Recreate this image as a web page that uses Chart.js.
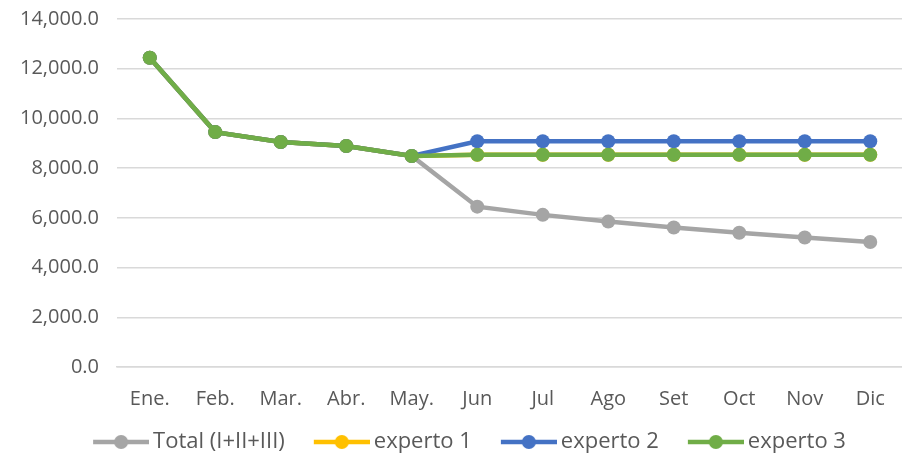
<!DOCTYPE html>
<html>
<head>
<meta charset="utf-8">
<script src="https://cdn.jsdelivr.net/npm/chart.js@4/dist/chart.umd.min.js"></script>
<style>
  html, body { margin: 0; padding: 0; background: #fff; overflow: hidden; }
  #wrap { width: 910px; height: 453px; }
</style>
</head>
<body>
<div id="wrap"><canvas id="chart"></canvas></div>
<script>
var months   = ['Ene.', 'Feb.', 'Mar.', 'Abr.', 'May.', 'Jun', 'Jul', 'Ago', 'Set', 'Oct', 'Nov', 'Dic'];
var total    = [12440, 9450, 9050, 8890, 8490, 6450, 6120, 5850, 5610, 5400, 5210, 5030];
var experto1 = [12440, 9450, 9050, 8890, 8490, 8540, 8540, 8540, 8540, 8540, 8540, 8540];
var experto2 = [12440, 9450, 9050, 8890, 8490, 9080, 9080, 9080, 9080, 9080, 9080, 9080];
var experto3 = [12440, 9450, 9050, 8890, 8490, 8540, 8540, 8540, 8540, 8540, 8540, 8540];
var yTicks   = [0, 2000, 4000, 6000, 8000, 10000, 12000, 14000];

var font = '"Open Sans", sans-serif';
var legendSize = 22;
var legendBox = 78;

// excel-like legend marker: line with a dot, pushed to the left so it sits
// right before the text (chart.js centres the image on the box)
function marker(color) {
  var w = legendBox + legendSize - 8;
  var c = document.createElement('canvas');
  c.width = w; c.height = 16;
  var ctx = c.getContext('2d');
  var x0 = w - 56;
  ctx.strokeStyle = color;
  ctx.lineWidth = 4.5;
  ctx.beginPath(); ctx.moveTo(x0, 8); ctx.lineTo(w, 8); ctx.stroke();
  ctx.fillStyle = color;
  ctx.beginPath(); ctx.arc(x0 + 28, 8, 7, 0, Math.PI * 2); ctx.fill();
  return c;
}

// order: lower value is drawn on top (green last, like excel)
function series(label, data, color, order) {
  return {
    label: label,
    data: data,
    order: order,
    borderColor: color,
    backgroundColor: color,
    borderWidth: 4.5,
    pointRadius: 7,
    pointHoverRadius: 7,
    pointBorderWidth: 0,
    pointStyle: 'circle',
    legendMarker: marker(color),
    tension: 0
  };
}

new Chart(document.getElementById('chart'), {
  type: 'line',
  data: {
    labels: months,
    datasets: [
      series('Total (I+II+III)', total, '#A5A5A5', 4),
      series('experto 1', experto1, '#FFC000', 3),
      series('experto 2', experto2, '#4472C4', 2),
      series('experto 3', experto3, '#70AD47', 1)
    ]
  },
  options: {
    responsive: true,
    maintainAspectRatio: false,
    animation: false,
    layout: { padding: { top: 19, left: 0, right: 0, bottom: -10 } },
    plugins: {
      tooltip: { enabled: false },
      legend: {
        position: 'bottom',
        labels: {
          usePointStyle: true,
          pointStyleWidth: legendBox,
          padding: 0,
          color: '#595959',
          font: { family: font, size: legendSize },
          generateLabels: function(chart) {
            return chart.data.datasets.map(function(ds, i) {
              return {
                text: ds.label,
                pointStyle: ds.legendMarker,
                fillStyle: ds.borderColor,
                strokeStyle: ds.borderColor,
                lineWidth: 0,
                fontColor: '#595959',
                datasetIndex: i
              };
            });
          }
        }
      }
    },
    scales: {
      x: {
        offset: true,
        grid: { display: false, drawTicks: false },
        border: { color: '#D9D9D9', width: 1.5 },
        ticks: { color: '#595959', padding: 20, maxRotation: 0, font: { family: font, size: 20 } }
      },
      y: {
        min: 0,
        max: 14000,
        afterFit: function(s) { s.width = 117; s.paddingTop = 0; },
        afterBuildTicks: function(s) { s.ticks = yTicks.map(function(v) { return { value: v }; }); },
        grid: { color: '#D9D9D9', lineWidth: 1.5, drawTicks: false },
        border: { display: false },
        ticks: {
          color: '#595959',
          padding: 18,
          font: { family: font, size: 20 },
          callback: function(v) {
            return v.toLocaleString('en-US', { minimumFractionDigits: 1, maximumFractionDigits: 1 });
          }
        }
      }
    }
  }
});
</script>
</body>
</html>
